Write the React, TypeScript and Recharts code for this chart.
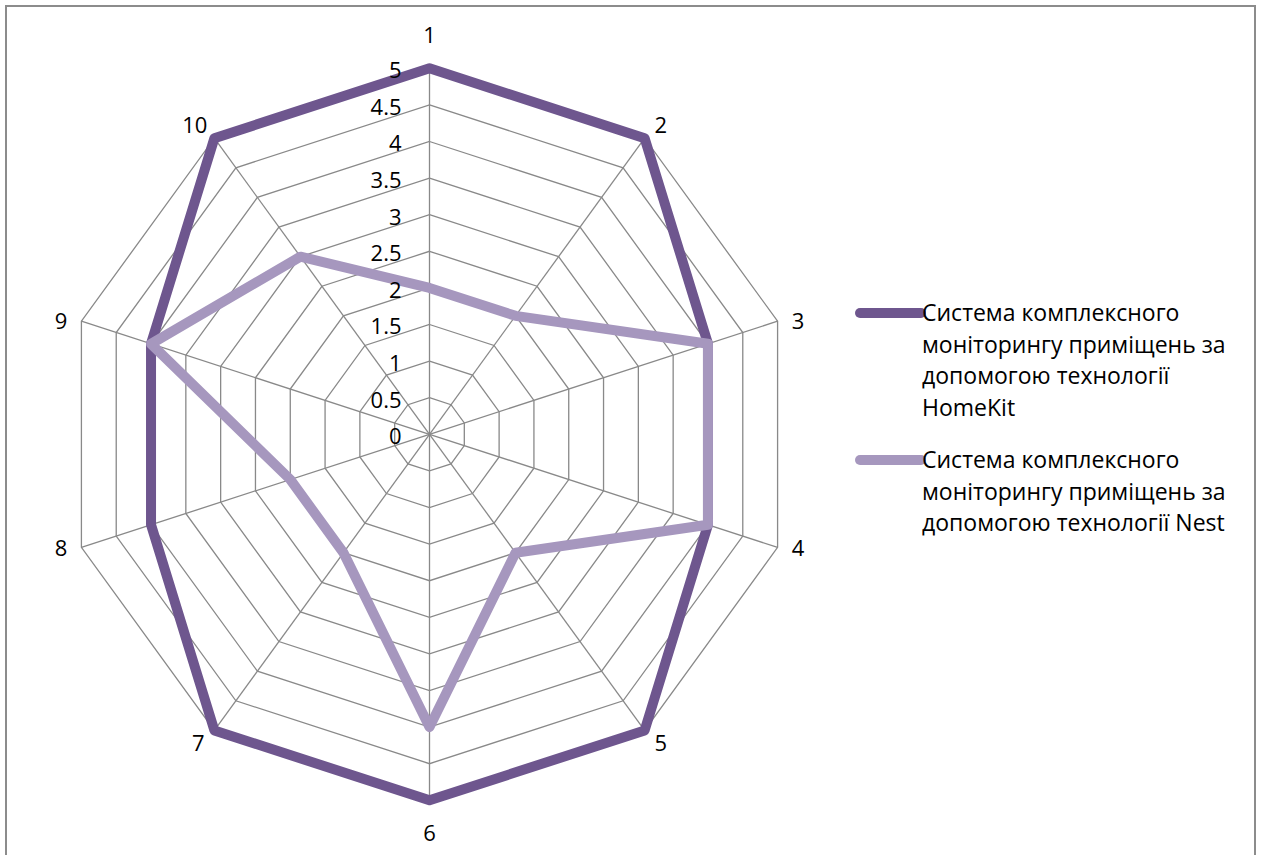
import React from 'react';
import {
  RadarChart,
  Radar,
  PolarGrid,
  PolarAngleAxis,
  PolarRadiusAxis,
  Legend,
} from 'recharts';

// Criteria numbers around the web
const categories = ['1', '2', '3', '4', '5', '6', '7', '8', '9', '10'];

// Scores per criterion
const homeKitValues = [5, 5, 4, 4, 5, 5, 5, 4, 4, 5];
const nestValues = [2, 2, 4, 4, 2, 4, 2, 2, 4, 3];

// Radius scale labels
const radiusTicks = [0, 0.5, 1, 1.5, 2, 2.5, 3, 3.5, 4, 4.5, 5];

const seriesNames = {
  homeKit: 'Система комплексного\nмоніторингу приміщень за\nдопомогою технології\nHomeKit',
  nest: 'Система комплексного\nмоніторингу приміщень за\nдопомогою технології Nest',
};

const COLORS = {
  homeKit: '#6E568E',
  nest: '#A697BE',
  grid: '#898989',
  text: '#000000',
};

const data = categories.map((c, i) => ({
  cat: c,
  homeKit: homeKitValues[i],
  nest: nestValues[i],
}));

const W = 1261;
const H = 855;
const CX = 429.5;
const CY = 434.3;
const R = 366;
const FONT = "'Open Sans', 'Noto Sans', sans-serif";
const TICK_SIZE = 22;
const LINE_W = 10;

const AngleTick = (props: any) => {
  const { payload } = props;
  const a = (payload.coordinate * Math.PI) / 180;
  const ux = Math.cos(a);
  const uy = -Math.sin(a);
  const vx = CX + R * ux;
  const vy = CY + R * uy;
  const len = String(payload.value).length;
  const sx = Math.sign(Math.round(ux * 1000));
  const sy = Math.sign(Math.round(uy * 1000));
  const dx = sx * 21 * Math.sqrt(Math.abs(ux)) + ux * (len - 1) * 6;
  const dy = sy * 33 * Math.pow(Math.abs(uy), 4.4);
  return (
    <text
      x={vx + dx}
      y={vy + dy + TICK_SIZE * 0.36}
      textAnchor="middle"
      fontFamily={FONT}
      fontSize={TICK_SIZE}
      fill={COLORS.text}
    >
      {payload.value}
    </text>
  );
};

const RadiusTick = (props: any) => {
  const { x, y, payload } = props;
  return (
    <text
      x={x - 28}
      y={y + 2 + TICK_SIZE * 0.36}
      textAnchor="end"
      fontFamily={FONT}
      fontSize={TICK_SIZE}
      fill={COLORS.text}
    >
      {String(payload.value)}
    </text>
  );
};

const LegendContent = () => {
  const entries = [
    { key: 'homeKit', color: COLORS.homeKit, name: seriesNames.homeKit },
    { key: 'nest', color: COLORS.nest, name: seriesNames.nest },
  ];
  return (
    <div style={{ fontFamily: FONT, fontSize: 23, color: COLORS.text }}>
      {entries.map((e, i) => (
        <div
          key={e.key}
          style={{ display: 'flex', alignItems: 'flex-start', marginBottom: i === 0 ? 20 : 0 }}
        >
          <svg width={71} height={32} style={{ flex: 'none' }}>
            <line
              x1={5}
              y1={16}
              x2={66}
              y2={16}
              stroke={e.color}
              strokeWidth={LINE_W}
              strokeLinecap="round"
            />
          </svg>
          <div style={{ whiteSpace: 'pre-line', lineHeight: '31.7px', marginLeft: -4 }}>
            {e.name}
          </div>
        </div>
      ))}
    </div>
  );
};

export default function App() {
  return (
    <div
      style={{
        position: 'absolute',
        left: 0,
        top: 0,
        width: W,
        height: H,
        overflow: 'hidden',
        background: '#ffffff',
      }}
    >
      <div
        style={{
          position: 'absolute',
          left: 5,
          top: 5,
          width: 1247,
          height: 900,
          border: '2px solid #8C8C8C',
        }}
      />
      <RadarChart
        width={W}
        height={H}
        data={data}
        cx={CX}
        cy={CY}
        outerRadius={R}
        startAngle={90}
        endAngle={-270}
        margin={{ top: 0, right: 0, bottom: 0, left: 0 }}
        style={{ position: 'absolute', left: 0, top: 0 }}
      >
        <PolarGrid gridType="polygon" stroke={COLORS.grid} strokeWidth={1.3} />
        <PolarAngleAxis
          dataKey="cat"
          tick={<AngleTick />}
          tickLine={false}
          axisLine={false}
        />
        <PolarRadiusAxis
          angle={90}
          domain={[0, 5]}
          ticks={radiusTicks as any}
          tickCount={11}
          tick={<RadiusTick />}
          tickLine={false}
          axisLine={false}
        />
        <Radar
          name="HomeKit"
          dataKey="homeKit"
          stroke={COLORS.homeKit}
          strokeWidth={LINE_W}
          strokeLinejoin="round"
          fill="none"
          fillOpacity={0}
          dot={false}
          isAnimationActive={false}
        />
        <Radar
          name="Nest"
          dataKey="nest"
          stroke={COLORS.nest}
          strokeWidth={LINE_W}
          strokeLinejoin="round"
          fill="none"
          fillOpacity={0}
          dot={false}
          isAnimationActive={false}
        />
        <Legend
          content={<LegendContent />}
          wrapperStyle={{ position: 'absolute', left: 855, top: 297, width: 400 }}
        />
      </RadarChart>
    </div>
  );
}
